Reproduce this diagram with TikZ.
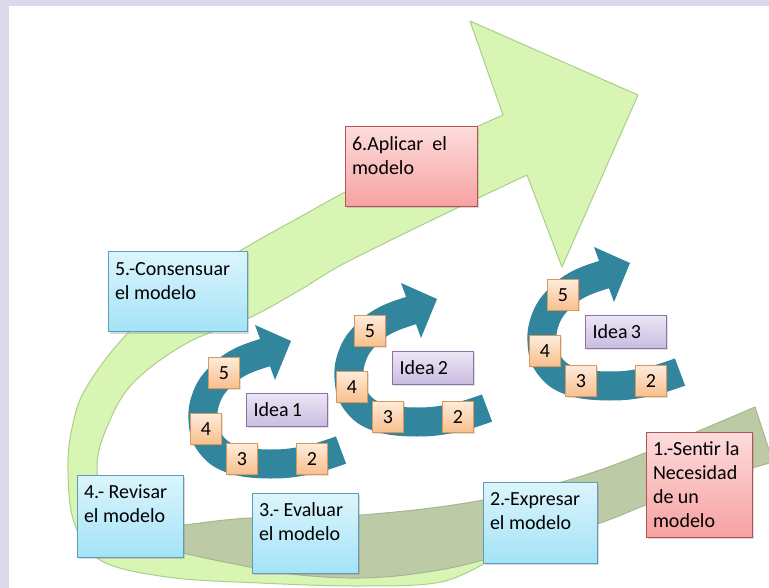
\documentclass[tikz,border=0pt]{standalone}
\usepackage{fontspec}
\setmainfont{Carlito}
\usetikzlibrary{shadows}

\definecolor{frame}{HTML}{DCD8EA}
\definecolor{lime}{HTML}{D8F5B4}
\definecolor{limeline}{HTML}{A9CF8A}
\definecolor{olive}{HTML}{BCCBA6}
\definecolor{oliveline}{HTML}{A6B78E}
\definecolor{ringblue}{HTML}{31859C}
\definecolor{cyantop}{HTML}{DCF5FC}
\definecolor{cyanbot}{HTML}{A3E3F7}
\definecolor{cyanline}{HTML}{5E9DB3}
\definecolor{pinktop}{HTML}{FDDCDC}
\definecolor{pinkbot}{HTML}{F7A1A1}
\definecolor{pinkline}{HTML}{B05454}
\definecolor{orangetop}{HTML}{FDEBDB}
\definecolor{orangebot}{HTML}{F9BF8C}
\definecolor{orangeline}{HTML}{D9975A}
\definecolor{violettop}{HTML}{ECE6F5}
\definecolor{violetbot}{HTML}{C9BCE0}
\definecolor{violetline}{HTML}{8A73AC}

\newcommand{\stagetext}[3]{\parbox[t][#2][t]{#1}{\raggedright\strut #3}}

\tikzset{
  every node/.style={font={\fontsize{20}{24}\selectfont}},
  stage/.style={line width=1pt, inner sep=7pt,
    drop shadow={shadow xshift=1.5pt, shadow yshift=-1.5pt, opacity=.3}},
  cyanbox/.style={stage, draw=cyanline, top color=cyantop, bottom color=cyanbot},
  pinkbox/.style={stage, draw=pinkline, top color=pinktop, bottom color=pinkbot},
  numbox/.style={draw=orangeline, line width=0.8pt, top color=orangetop, bottom color=orangebot,
    minimum width=31pt, minimum height=31pt, inner sep=0pt,
    drop shadow={shadow xshift=1pt, shadow yshift=-1pt, opacity=.25}},
  ideabox/.style={draw=violetline, line width=0.8pt, top color=violettop, bottom color=violetbot,
    text width=67pt, align=left, inner xsep=7pt, inner ysep=0pt, minimum height=33pt,
    drop shadow={shadow xshift=1pt, shadow yshift=-1pt, opacity=.25}},
  ring/.style={draw=ringblue, line width=29pt, line cap=butt}
}

\begin{document}
\begin{tikzpicture}[x=1pt, y=-1pt]
\useasboundingbox (0,0) rectangle (769,588);
\fill[frame] (0,0) rectangle (769,588);
\fill[white] (9,6) rectangle (769,588);
\clip (0,0) rectangle (769,588);

% big swoosh, front face
\filldraw[fill=lime, draw=limeline, line width=1pt, line join=round]
  plot[smooth, tension=0.6] coordinates {(490,560) (441,582) (361,586) (260,583) (167,577) (100,560) (74,522) (68,470) (72,428) (86,388) (127,334) (185,285) (250,245) (300,217) (347,191) (420,153) (503,115)}
  -- (470,21) -- (638,95) -- (562,267) -- (527,175)
  -- plot[smooth, tension=0.6] coordinates {(457,208) (347,262) (300,290) (249,318) (187,343) (133,383) (107,427) (97,467) (108,505) (150,528) (250,536) (400,541) (490,545)}
  -- cycle;

% big swoosh, back face
\filldraw[fill=olive, draw=oliveline, line width=1pt, line join=round]
  plot[smooth, tension=0.6] coordinates {(130,530) (183,525) (250,518) (361,515) (483,500) (600,470) (755,407)}
  -- (773,462)
  -- plot[smooth, tension=0.6] coordinates {(752,468) (700,487) (646,505) (597,524) (483,560) (420,573) (361,578) (300,575) (250,567) (183,553) (130,538)}
  -- cycle;

% the three idea cycles
\foreach \n/\dx/\dy in {1/0/0, 2/146/-42, 3/339/-78}{
  \begin{scope}[shift={(\dx,\dy)}]
    \draw[ring] plot[smooth, tension=0.7] coordinates {(341,450) (308,460) (270,464) (232,459) (210,443) (203,420) (207,396) (220,377) (240,362) (267,352)};
    \fill[ringblue] (255,325) -- (291,341) -- (275,380) -- cycle;
    \node[numbox] (n5-\n) at (224,373) {5};
    \node[numbox] (n4-\n) at (206,429) {4};
    \node[numbox] (n3-\n) at (242,459) {3};
    \node[numbox] (n2-\n) at (312,459) {2};
    \node[ideabox] (idea-\n) at (287,410) {Idea\,\n};
  \end{scope}
}

% stages
\node[pinkbox] (sentir) at (699,484.5) {\stagetext{92pt}{91pt}{1.-Sentir la\\Necesidad\\de un\\modelo}};
\node[cyanbox] (expresar) at (540,522.5) {\stagetext{100pt}{67pt}{2.-Expresar\\el modelo}};
\node[cyanbox] (evaluar) at (305,533) {\stagetext{92pt}{66pt}{3.- Evaluar\\el modelo}};
\node[cyanbox] (revisar) at (130,516) {\stagetext{92pt}{68pt}{4.- Revisar\\el modelo}};
\node[cyanbox] (consensuar) at (177.5,292) {\stagetext{125pt}{66pt}{5.-Consensuar\\el modelo}};
\node[pinkbox] (aplicar) at (411,167) {\stagetext{118pt}{66pt}{6.Aplicar\ \ el\\modelo}};
\end{tikzpicture}
\end{document}
